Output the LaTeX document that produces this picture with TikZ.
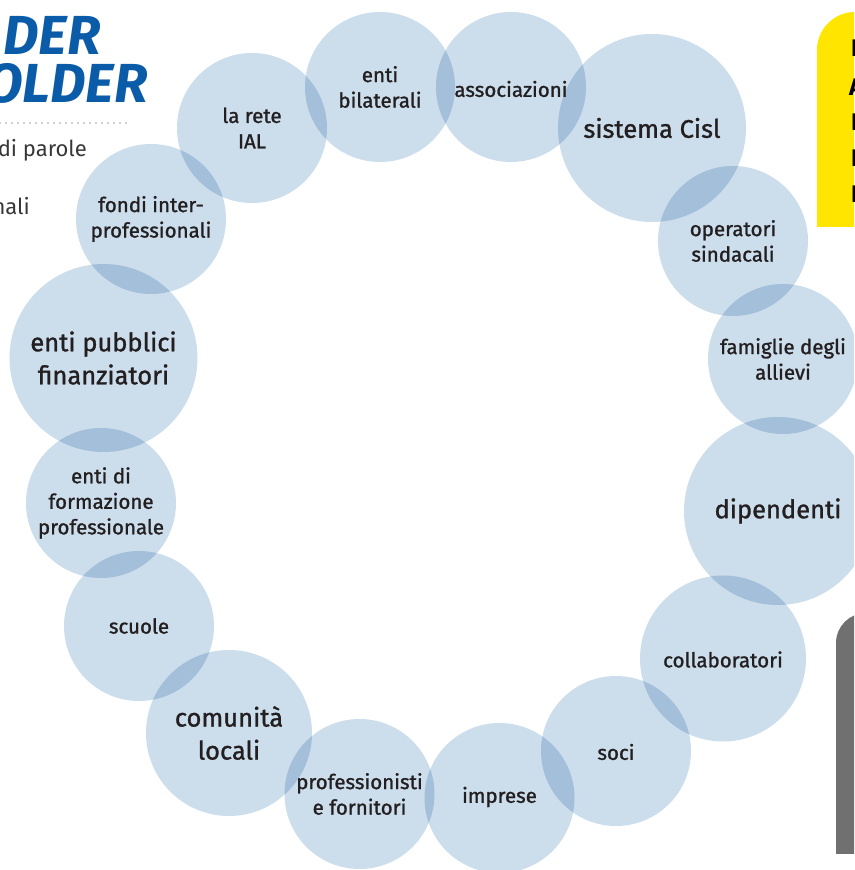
\documentclass[tikz,border=0pt]{standalone}
\usepackage{fontspec}
\setmainfont{Fira Sans}
\newfontfamily\medfont[FakeBold=1.2]{Fira Sans}
\definecolor{bubble}{RGB}{204,221,236}
\definecolor{txt}{RGB}{35,31,32}
\definecolor{titleblue}{RGB}{10,92,168}
\definecolor{ybox}{RGB}{255,229,0}
\definecolor{gbox}{RGB}{112,112,112}
\definecolor{greytxt}{RGB}{55,55,55}
\tikzset{
  bub/.style={circle, fill=bubble, draw=none, inner sep=0pt, blend mode=multiply},
  small/.style={bub, minimum size=150pt},
  mid/.style={bub, minimum size=166pt},
  big/.style={bub, minimum size=188pt},
  lbl/.style={align=center, text=txt, inner sep=0pt, font=\medfont\fontsize{20.5}{25.5}\selectfont},
  lblbig/.style={lbl, font=\medfont\fontsize{25.5}{33}\selectfont},
  titletxt/.style={anchor=base east, inner sep=0pt, text=titleblue, font=\fontsize{55}{55}\selectfont\bfseries\itshape},
  sidetxt/.style={anchor=base east, inner sep=0pt, text=greytxt, font=\fontsize{22}{24}\selectfont},
  boxtxt/.style={anchor=base west, inner sep=0pt, text=black, font=\fontsize{24}{24}\selectfont\bfseries}
}
\begin{document}
\begin{tikzpicture}[x=1pt,y=1pt]
\useasboundingbox (0,0) rectangle (854,870);
\clip (0,0) rectangle (854,870);
% side boxes
\fill[ybox] (817,643) -- (817,820) arc[start angle=180,end angle=90,radius=38] -- (870,858) -- (870,643) -- cycle;
\fill[gbox] (836,16) -- (836,227) arc[start angle=180,end angle=90,radius=30] -- (870,257) -- (870,16) -- cycle;
\node[boxtxt] (y1) at (851,813) {P};
\node[boxtxt] (y2) at (849,774) {A};
\node[boxtxt] (y3) at (851,739) {P};
\node[boxtxt] (y4) at (851,703) {P};
\node[boxtxt] (y5) at (851,667) {P};
% title fragments
\node[titletxt] (t1) at (101,815) {DER};
\node[titletxt] (t2) at (148,767) {OLDER};
\coordinate (d1) at (0,747);
\coordinate (d2) at (129,747);
\draw[greytxt, line width=1.3pt, line cap=round, dash pattern=on 0pt off 6pt] (d1) -- (d2);
\node[sidetxt] (s1) at (87,713) {di parole};
\node[sidetxt] (s2) at (30,655) {nali};
% bubbles
\node[small] (ial) at (252,742) {};
\node[small] (bil) at (380,783) {};
\node[small] (ass) at (511,783) {};
\node[big] (cisl) at (652,742) {};
\node[small] (ope) at (733,629) {};
\node[small] (fam) at (783,511) {};
\node[big] (dip) at (778,359) {};
\node[mid] (col) at (723,211.5) {};
\node[small] (soc) at (616,119) {};
\node[small] (imp) at (499.5,72) {};
\node[small] (pro) at (359.5,76) {};
\node[mid] (com) at (229,137) {};
\node[small] (scu) at (139,244) {};
\node[small] (for) at (101,367) {};
\node[big] (pub) at (103.5,512) {};
\node[small] (fon) at (151,651) {};
% labels
\node[lbl] (ial-t) at (ial) {la rete\\IAL};
\node[lbl] (bil-t) at (bil) {enti\\bilaterali};
\node[lbl] (ass-t) at ([yshift=-2pt]ass) {associazioni};
\node[lblbig] (cisl-t) at (cisl) {sistema Cisl};
\node[lbl] (ope-t) at (ope) {operatori\\sindacali};
\node[lbl] (fam-t) at (fam) {famiglie degli\\allievi};
\node[lblbig] (dip-t) at (dip) {dipendenti};
\node[lbl] (col-t) at ([yshift=-1pt]col) {collaboratori};
\node[lbl] (soc-t) at ([yshift=-1pt]soc) {soci};
\node[lbl] (imp-t) at ([yshift=1pt]imp) {imprese};
\node[lbl] (pro-t) at (pro) {professionisti\\e fornitori};
\node[lblbig] (com-t) at (com) {comunità\\locali};
\node[lbl] (scu-t) at (scu) {scuole};
\node[lbl] (for-t) at (for) {enti di\\formazione\\professionale};
\node[lblbig] (pub-t) at (pub) {enti pubblici\\finanziatori};
\node[lbl] (fon-t) at (fon) {fondi inter-\\professionali};
\end{tikzpicture}
\end{document}
